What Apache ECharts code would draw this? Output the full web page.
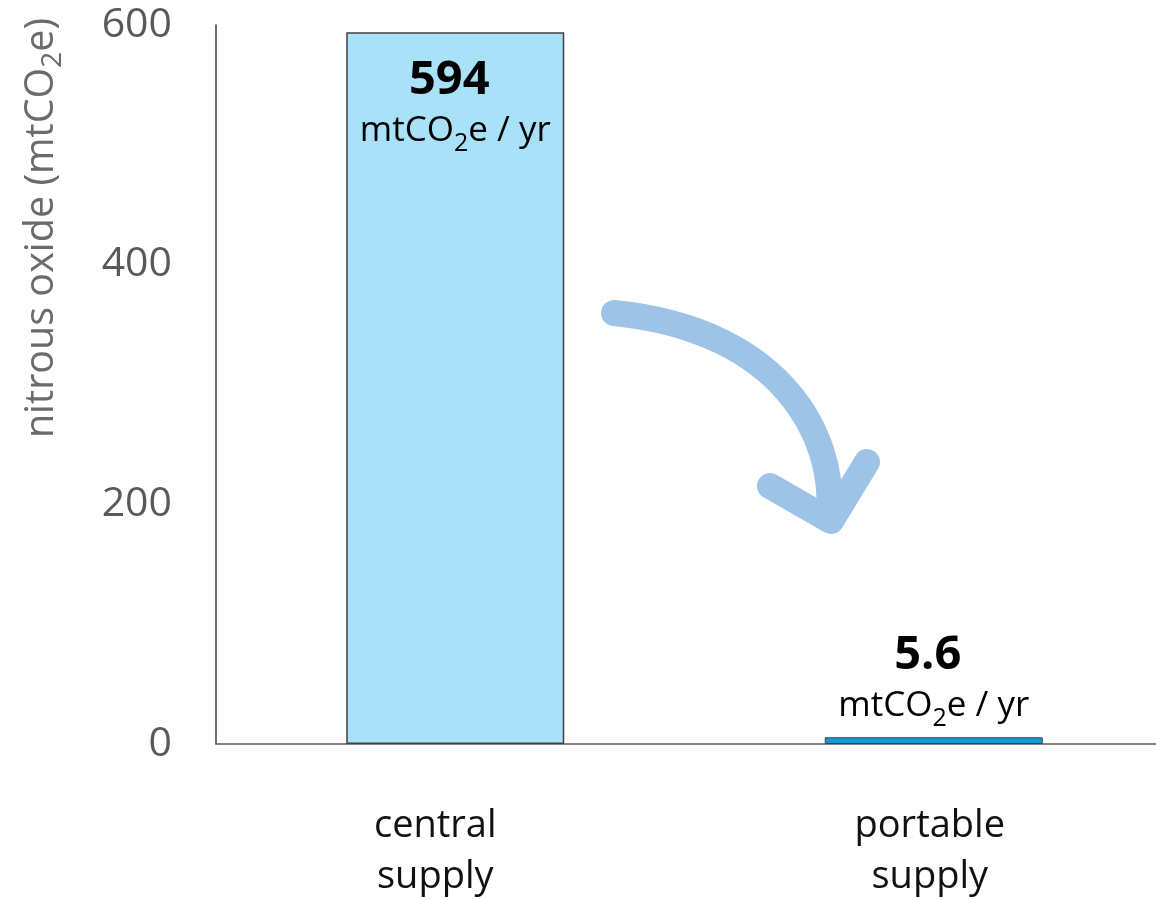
<!DOCTYPE html>
<html><head><meta charset="utf-8">
<script src="https://cdn.jsdelivr.net/npm/echarts@6/dist/echarts.min.js"></script>
<style>html,body{margin:0;padding:0;background:#fff}#c{width:1156px;height:900px}</style>
</head><body><div id="c"></div>
<script>
const categories = ['central\nsupply', 'portable\nsupply'];
const values = [594, 5.6];
const valueLabels = ['594', '5.6'];
const barColors = ['#A9E1F9', '#1199DD'];
const yTicks = [0, 200, 400, 600];
const yName = ['nitrous oxide (mtCO', '2', 'e)'];
const unitParts = ['mtCO', '2', 'e / yr'];
const FONT = '"Open Sans", "Noto Sans", sans-serif';

const chart = echarts.init(document.getElementById('c'));
chart.setOption({
  animation: false,
  backgroundColor: '#fff',
  grid: { left: 216, right: -17, top: 25, bottom: 156, containLabel: false, outerBoundsMode: 'none' },
  xAxis: {
    type: 'category',
    data: categories.map((c, i) => ({ value: c, textStyle: i === 0 ? { padding: [0, 40, 0, 0] } : { padding: [0, 8, 0, 0] } })),
    axisTick: { show: false },
    axisLine: { lineStyle: { color: '#595959', width: 1.5 } },
    axisLabel: { fontFamily: FONT, fontSize: 38, color: '#111', lineHeight: 51, margin: 57 }
  },
  yAxis: {
    type: 'value', min: yTicks[0], max: yTicks[yTicks.length - 1], interval: 200,
    splitLine: { show: false },
    axisTick: { show: false },
    axisLine: { show: true, lineStyle: { color: '#404040', width: 1.5 } },
    axisLabel: { fontFamily: FONT, fontSize: 41, color: '#595959', margin: 44 }
  },
  series: [{
    type: 'bar',
    barWidth: 218,
    data: values.map((v, i) => ({
      value: v,
      itemStyle: { color: barColors[i], borderColor: '#404040', borderWidth: i === 0 ? 1.5 : 1 },
      label: {
        show: true,
        position: i === 0 ? 'insideTop' : 'top',
        distance: i === 0 ? 22 : 6,
        formatter: '{v|' + valueLabels[i] + '}\n{u|' + unitParts[0] + '}{s|' + unitParts[1] + '}{u|' + unitParts[2] + '}',
        rich: {
          v: { fontFamily: FONT, fontSize: 47, fontWeight: 'bold', color: '#000', lineHeight: 52, padding: [0, 12, 0, 0] },
          u: { fontFamily: FONT, fontSize: 35, color: '#000', lineHeight: 50 },
          s: { fontFamily: FONT, fontSize: 25, color: '#000', lineHeight: 30, verticalAlign: 'bottom' }
        }
      }
    }))
  }],
  graphic: [
    { type: 'text', x: 42, y: 228, rotation: Math.PI / 2,
      style: { text: '{n|' + yName[0] + '}{s|' + yName[1] + '}{n|' + yName[2] + '}', align: 'center', verticalAlign: 'middle',
        rich: {
          n: { fontFamily: FONT, fontSize: 39.5, fill: '#6b6b6b', lineHeight: 50 },
          s: { fontFamily: FONT, fontSize: 28, fill: '#6b6b6b', lineHeight: 32, verticalAlign: 'bottom' }
        } } },
    { type: 'bezierCurve', shape: { x1: 614, y1: 313, cpx1: 785, cpy1: 330, cpx2: 835, cpy2: 440, x2: 829, y2: 512 },
      style: { stroke: '#9DC3E6', lineWidth: 26, lineCap: 'round', fill: null } },
    { type: 'polyline', shape: { points: [[770, 486], [831, 521], [867, 462]] },
      style: { stroke: '#9DC3E6', lineWidth: 26, lineCap: 'round', lineJoin: 'round', fill: null } }
  ]
});
</script></body></html>
